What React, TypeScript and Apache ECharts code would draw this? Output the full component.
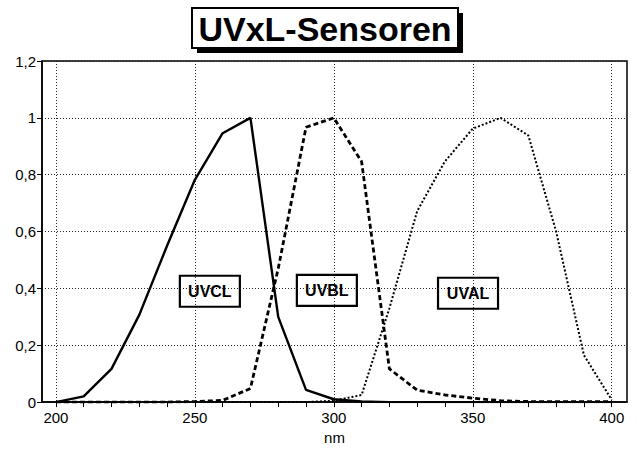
import React, { useEffect, useRef } from "react";
import * as echarts from "echarts";

const wavelengths = [200, 210, 220, 230, 240, 250, 260, 270, 280, 290, 300, 310, 320, 330, 340, 350, 360, 370, 380, 390, 400];
const uvcl = [0, 0.02, 0.117, 0.307, 0.55, 0.782, 0.946, 1.0, 0.3, 0.043, 0.01, 0.002, 0, 0, 0, 0, 0, 0, 0, 0, 0];
const uvbl = [0, 0, 0, 0, 0, 0.002, 0.006, 0.048, 0.47, 0.967, 1.0, 0.846, 0.117, 0.042, 0.025, 0.014, 0.005, 0.002, 0.002, 0.002, 0.002];
const uval = [0, 0, 0, 0, 0, 0, 0, 0, 0, 0, 0.005, 0.025, 0.33, 0.672, 0.847, 0.962, 1.0, 0.938, 0.6, 0.165, 0.008];

const xLabelValues = [200, 250, 300, 350, 400];
const xTickValues = [200, 210, 220, 230, 240, 250, 260, 270, 280, 290, 300, 310, 320, 330, 340, 350, 360, 370, 380, 390, 400];

const labelNames = ["UVCL", "UVBL", "UVAL"];
const labelX = [255.4, 297.5, 348.3];
const labelY = [0.39, 0.393, 0.383];
const labelBoxW = [60, 60, 60];

const titleText = "UVxL-Sensoren";
const FONT = "'Liberation Sans', Arial, Helvetica, sans-serif";

export default function App() {
  const ref = useRef<HTMLDivElement>(null);

  useEffect(() => {
    document.body.style.margin = "0";
    const chart = echarts.init(ref.current!, null, { renderer: "svg" });
    const pairs = (vals: number[]) => wavelengths.map((w, i) => [w, vals[i]]);

    const titleGraphic = {
      type: "group",
      id: "title",
      children: [
        { type: "rect", shape: { x: 197, y: 13, width: 266, height: 40 }, style: { fill: "#000" } },
        { type: "rect", shape: { x: 192, y: 8, width: 266, height: 40 }, style: { fill: "#fff", stroke: "#000", lineWidth: 2 } },
        {
          type: "text",
          x: 325,
          y: 29,
          style: {
            text: titleText,
            fill: "#000",
            font: `bold 34px ${FONT}`,
            align: "center",
            verticalAlign: "middle",
          },
        },
      ],
    };

    chart.setOption({
      animation: false,
      backgroundColor: "#fff",
      textStyle: { fontFamily: FONT },
      grid: {
        left: 42,
        right: 10,
        top: 61,
        bottom: 41,
        show: true,
        borderColor: "#000",
        borderWidth: 1.5,
        backgroundColor: "transparent",
      },
      graphic: [titleGraphic],
      xAxis: [
        {
          type: "value",
          min: 195,
          max: 405.5,
          position: "bottom",
          name: "nm",
          nameLocation: "middle",
          nameGap: 22,
          nameTextStyle: { color: "#000", fontSize: 15, fontFamily: FONT },
          axisLine: { show: true, lineStyle: { color: "#000", width: 1.5 } },
          axisTick: { show: true, length: 5, inside: false, customValues: xTickValues, lineStyle: { color: "#000", width: 1 } },
          axisLabel: { show: true, customValues: xLabelValues, margin: 8, color: "#000", fontSize: 15, fontFamily: FONT },
          splitLine: { show: false },
        },
        {
          type: "value",
          min: 195,
          max: 405.5,
          position: "top",
          axisLine: { show: false },
          axisTick: { show: false, customValues: xLabelValues },
          axisLabel: { show: false, customValues: xLabelValues },
          splitLine: { show: true, lineStyle: { color: "#222", width: 1, type: [1, 2] } },
        },
      ],
      yAxis: {
        type: "value",
        min: 0,
        max: 1.2,
        interval: 0.2,
        axisLine: { show: true, lineStyle: { color: "#000", width: 1.5 } },
        axisTick: { show: true, length: 5, inside: false, lineStyle: { color: "#000", width: 1 } },
        axisLabel: {
          margin: 6,
          color: "#000",
          fontSize: 15,
          fontFamily: FONT,
          formatter: (v: number) => {
            const r = Math.round(v * 10) / 10;
            return String(r).replace(".", ",");
          },
        },
        splitLine: { show: true, lineStyle: { color: "#222", width: 1, type: [1, 2] } },
      },
      series: [
        {
          name: "UVCL",
          type: "line",
          xAxisIndex: 0,
          data: pairs(uvcl),
          symbol: "none",
          lineStyle: { color: "#000", width: 2.4, type: "solid" },
          z: 3,
        },
        {
          name: "UVBL",
          type: "line",
          xAxisIndex: 0,
          data: pairs(uvbl),
          symbol: "none",
          lineStyle: { color: "#000", width: 2.8, type: [5, 3] },
          z: 3,
        },
        {
          name: "UVAL",
          type: "line",
          xAxisIndex: 0,
          data: pairs(uval),
          symbol: "none",
          lineStyle: { color: "#000", width: 2, type: [2, 2] },
          z: 3,
        },
      ],
    });

    const boxes = labelNames.map((n, i) => {
      const p = chart.convertToPixel({ xAxisIndex: 0, yAxisIndex: 0 }, [labelX[i], labelY[i]]) as number[];
      const w = labelBoxW[i];
      const h = 31;
      return {
        type: "group",
        id: "lbl" + i,
        z: 10,
        children: [
          {
            type: "rect",
            shape: { x: p[0] - w / 2, y: p[1] - h / 2, width: w, height: h },
            style: { fill: "#fff", stroke: "#000", lineWidth: 2.2 },
          },
          {
            type: "text",
            x: p[0],
            y: p[1] + 0.5,
            style: {
              text: n,
              fill: "#000",
              font: `bold 16px ${FONT}`,
              align: "center",
              verticalAlign: "middle",
            },
          },
        ],
      };
    });

    chart.setOption({ graphic: [titleGraphic, ...boxes] });

    return () => chart.dispose();
  }, []);

  return <div ref={ref} style={{ width: 637, height: 450 }} />;
}
